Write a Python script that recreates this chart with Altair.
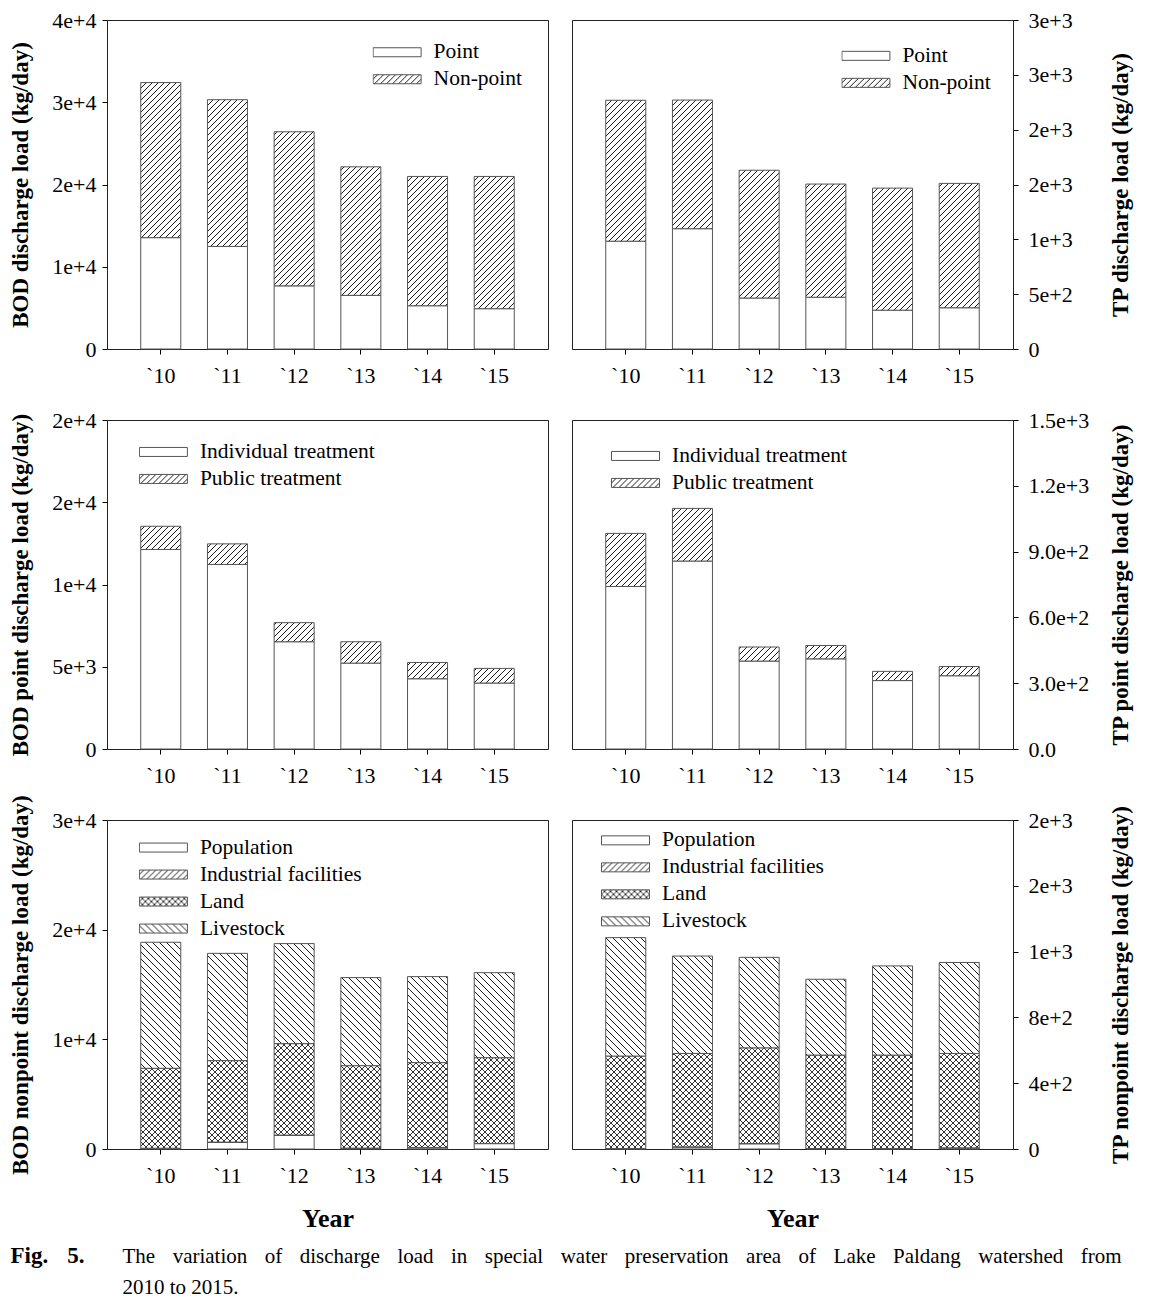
import json
import altair as alt
import pandas as pd
import jinja2

# ---------------- data ----------------
YEARS = ["`10", "`11", "`12", "`13", "`14", "`15"]

CATS_TOTAL = ["Point", "Non-point"]
CATS_POINT = ["Individual treatment", "Public treatment"]
CATS_NONPOINT = ["Population", "Industrial facilities", "Land", "Livestock"]

BOD_POINT = [13540, 12470, 7680, 6520, 5260, 4900]
BOD_NONPOINT = [18850, 17840, 18730, 15630, 15720, 16080]
TP_POINT = [983, 1097, 465, 472, 354, 376]
TP_NONPOINT = [1285, 1173, 1165, 1032, 1113, 1134]

BOD_INDIVIDUAL = [12130, 11220, 6520, 5220, 4270, 4010]
BOD_PUBLIC = [1410, 1250, 1160, 1300, 990, 890]
TP_INDIVIDUAL = [741, 857, 401, 411, 312, 334]
TP_PUBLIC = [242, 240, 64, 61, 42, 42]

BOD_POPULATION = [50, 610, 1250, 60, 110, 490]
BOD_INDUSTRIAL = [20, 20, 20, 20, 20, 20]
BOD_LAND = [7290, 7430, 8340, 7520, 7750, 7820]
BOD_LIVESTOCK = [11490, 9780, 9120, 8030, 7840, 7750]

TP_POPULATION = [2, 12, 32, 2, 2, 6]
TP_INDUSTRIAL = [1, 1, 1, 1, 1, 1]
TP_LAND = [562, 568, 582, 568, 568, 574]
TP_LIVESTOCK = [720, 592, 550, 461, 542, 553]

BOD_TOTAL_TICKS = [0, 10000, 20000, 30000, 40000]
BOD_TOTAL_LABELS = ["0", "1e+4", "2e+4", "3e+4", "4e+4"]
TP_TOTAL_TICKS = [0, 500, 1000, 1500, 2000, 2500, 3000]
TP_TOTAL_LABELS = ["0", "5e+2", "1e+3", "2e+3", "2e+3", "3e+3", "3e+3"]
BOD_POINT_TICKS = [0, 5000, 10000, 15000, 20000]
BOD_POINT_LABELS = ["0", "5e+3", "1e+4", "2e+4", "2e+4"]
TP_POINT_TICKS = [0, 300, 600, 900, 1200, 1500]
TP_POINT_LABELS = ["0.0", "3.0e+2", "6.0e+2", "9.0e+2", "1.2e+3", "1.5e+3"]
BOD_NONPOINT_TICKS = [0, 10000, 20000, 30000]
BOD_NONPOINT_LABELS = ["0", "1e+4", "2e+4", "3e+4"]
TP_NONPOINT_TICKS = [0, 400, 800, 1200, 1600, 2000]
TP_NONPOINT_LABELS = ["0", "4e+2", "8e+2", "1e+3", "2e+3", "2e+3"]

TITLES = {
    "bod_total": "BOD discharge load (kg/day)",
    "tp_total": "TP discharge load (kg/day)",
    "bod_point": "BOD point discharge load (kg/day)",
    "tp_point": "TP point discharge load (kg/day)",
    "bod_nonpoint": "BOD nonpoint discharge load (kg/day)",
    "tp_nonpoint": "TP nonpoint discharge load (kg/day)",
}
X_TITLE = "Year"
CAPTION_LABEL = "Fig. 5."
CAPTION_LINES = [
    "The variation of discharge load in special water preservation area of Lake Paldang watershed from",
    "2010 to 2015.",
]

# ---------------- styling ----------------
SERIF = "Liberation Serif"
W, H = 441, 329
ROW_GAP = 71
WHITE = "#ffffff"
FWD = "url(#hatchFwd)"
CROSS = "url(#hatchCross)"
BACK = "url(#hatchBack)"
RECT_SYMBOL = "M-1,-0.1875H1V0.1875H-1Z"
JUSTIFY_SPACE = "\u2002\u2004"   # wider word gap, imitating the justified first line


def make_df(cats, series):
    rows = []
    for k, (cat, vals) in enumerate(zip(cats, series)):
        for yr, v in zip(YEARS, vals):
            rows.append({"year": yr, "cat": cat, "k": k, "v": v})
    return pd.DataFrame(rows)


def panel(cats, series, fills, ticks, tick_labels, title, side, lx, ly, xtitle=None):
    df = make_df(cats, series)
    label_expr = "%s[indexof(%s, datum.value)]" % (json.dumps(tick_labels), json.dumps(ticks))
    yaxis = alt.Axis(
        orient=side, values=ticks, labelExpr=label_expr, title=title,
        titleAngle=270, titleX=(-87 if side == "left" else 107), titleY=H / 2,
        titleBaseline="middle", titleAlign="center",
        grid=False, domain=False, tickSize=5, tickColor="#000", tickWidth=1,
        labelPadding=(6 if side == "left" else 10), labelFont=SERIF, labelFontSize=22,
        labelColor="#000", titleFont=SERIF, titleFontSize=23, titleFontWeight="bold",
        titleColor="#000",
    )
    xkw = dict(labelAngle=0, domain=False, tickSize=5, tickColor="#000", tickWidth=1,
               labelPadding=11, labelFont=SERIF, labelFontSize=22, labelColor="#000", grid=False)
    if xtitle:
        xaxis = alt.Axis(title=xtitle, titleFont=SERIF, titleFontSize=26, titleFontWeight="bold",
                         titlePadding=19, titleColor="#000", **xkw)
    else:
        xaxis = alt.Axis(title=None, **xkw)
    legend = alt.Legend(
        title=None, orient="none", legendX=lx, legendY=ly, padding=0,
        symbolType=RECT_SYMBOL, symbolSize=2304, symbolStrokeColor="#555",
        symbolStrokeWidth=1, clipHeight=26.7, rowPadding=0, labelOffset=12,
        labelFont=SERIF, labelFontSize=21.5, labelColor="#000", labelLimit=400,
    )
    return alt.Chart(df).mark_bar(stroke="#555", strokeWidth=1).encode(
        x=alt.X("year:N", sort=YEARS, scale=alt.Scale(paddingInner=0.4, paddingOuter=0.506), axis=xaxis),
        y=alt.Y("v:Q", stack="zero", scale=alt.Scale(domain=[0, ticks[-1]], nice=False, zero=True), axis=yaxis),
        fill=alt.Fill("cat:N", scale=alt.Scale(domain=cats, range=fills), legend=legend),
        order=alt.Order("k:Q", sort="ascending"),
    ).properties(width=W, height=H)


p1 = panel(CATS_TOTAL, [BOD_POINT, BOD_NONPOINT], [WHITE, FWD],
           BOD_TOTAL_TICKS, BOD_TOTAL_LABELS, TITLES["bod_total"], "left", 265.6, 18.9)
p2 = panel(CATS_TOTAL, [TP_POINT, TP_NONPOINT], [WHITE, FWD],
           TP_TOTAL_TICKS, TP_TOTAL_LABELS, TITLES["tp_total"], "right", 269.4, 22.5)
p3 = panel(CATS_POINT, [BOD_INDIVIDUAL, BOD_PUBLIC], [WHITE, FWD],
           BOD_POINT_TICKS, BOD_POINT_LABELS, TITLES["bod_point"], "left", 31.9, 18.6)
p4 = panel(CATS_POINT, [TP_INDIVIDUAL, TP_PUBLIC], [WHITE, FWD],
           TP_POINT_TICKS, TP_POINT_LABELS, TITLES["tp_point"], "right", 39, 22.6)
p5 = panel(CATS_NONPOINT, [BOD_POPULATION, BOD_INDUSTRIAL, BOD_LAND, BOD_LIVESTOCK],
           [WHITE, FWD, CROSS, BACK], BOD_NONPOINT_TICKS, BOD_NONPOINT_LABELS,
           TITLES["bod_nonpoint"], "left", 31.9, 14.2, X_TITLE)
p6 = panel(CATS_NONPOINT, [TP_POPULATION, TP_INDUSTRIAL, TP_LAND, TP_LIVESTOCK],
           [WHITE, FWD, CROSS, BACK], TP_NONPOINT_TICKS, TP_NONPOINT_LABELS,
           TITLES["tp_nonpoint"], "right", 29, 7, X_TITLE)

cap_df = pd.DataFrame({"t": [0]})
cap_label = CAPTION_LABEL.replace(" ", JUSTIFY_SPACE)
cap_lines = [CAPTION_LINES[0].replace(" ", JUSTIFY_SPACE)] + CAPTION_LINES[1:]
cap_bold = alt.Chart(cap_df).mark_text(
    text=cap_label, font=SERIF, fontSize=23, fontWeight="bold",
    align="left", baseline="alphabetic", color="#000",
).encode(x=alt.value(-96.5), y=alt.value(43))
cap_body = alt.Chart(cap_df).mark_text(
    text=cap_lines, font=SERIF, fontSize=21, lineHeight=31,
    align="left", baseline="alphabetic", color="#000",
).encode(x=alt.value(15.5), y=alt.value(43))
caption = alt.layer(cap_bold, cap_body).properties(
    width=W, height=40, view=alt.ViewBackground(stroke="transparent"))

chart = alt.concat(
    p1, p2, p3, p4, p5, p6, caption,
    columns=2, spacing={"row": ROW_GAP, "column": 24}, bounds="flush",
).resolve_scale(fill="independent", x="independent", y="independent").resolve_legend(
    fill="independent").resolve_axis(x="independent", y="independent").properties(
    padding={"left": 0, "top": 0, "right": 2, "bottom": 0}
).configure_view(stroke="#222", strokeWidth=1)

TEMPLATE = jinja2.Template("""<!DOCTYPE html>
<html>
<head>
  <meta charset="utf-8">
  <style>
    #{{ output_div }}.vega-embed { width: 100%; display: flex; }
    #{{ output_div }}.vega-embed details,
    #{{ output_div }}.vega-embed details summary { position: relative; }
  </style>
  <script type="text/javascript" src="{{ base_url }}/vega@{{ vega_version }}"></script>
  <script type="text/javascript" src="{{ base_url }}/vega-lite@{{ vegalite_version }}"></script>
  <script type="text/javascript" src="{{ base_url }}/vega-embed@{{ vegaembed_version }}"></script>
</head>
<body>
  <svg width="0" height="0" style="position:absolute;left:0;top:0" aria-hidden="true">
    <defs>
      <pattern id="hatchFwd" patternUnits="userSpaceOnUse" width="6" height="6">
        <rect width="6" height="6" fill="#ffffff"/>
        <path d="M-1.5,1.5 L1.5,-1.5 M0,6 L6,0 M4.5,7.5 L7.5,4.5" stroke="#000" stroke-width="0.9"/>
      </pattern>
      <pattern id="hatchBack" patternUnits="userSpaceOnUse" width="7" height="7">
        <rect width="7" height="7" fill="#ffffff"/>
        <path d="M-1.5,5.5 L1.5,8.5 M0,0 L7,7 M5.5,-1.5 L8.5,1.5" stroke="#000" stroke-width="0.9"/>
      </pattern>
      <pattern id="hatchCross" patternUnits="userSpaceOnUse" width="6" height="6">
        <rect width="6" height="6" fill="#ffffff"/>
        <path d="M-1.5,1.5 L1.5,-1.5 M0,6 L6,0 M4.5,7.5 L7.5,4.5 M-1.5,4.5 L1.5,7.5 M0,0 L6,6 M4.5,-1.5 L7.5,1.5" stroke="#000" stroke-width="0.8"/>
      </pattern>
    </defs>
  </svg>
  <div id="{{ output_div }}"></div>
  <script>
    (function(vegaEmbed) {
      var spec = {{ spec }};
      var embedOpt = {{ embed_options }};
      function showError(el, error){
        el.innerHTML = ('<div style="color:red;"><p>JavaScript Error: ' + error.message + '</p></div>');
        throw error;
      }
      const el = document.getElementById('{{ output_div }}');
      vegaEmbed("#{{ output_div }}", spec, embedOpt).catch(error => showError(el, error));
    })(vegaEmbed);
  </script>
</body>
</html>
""")

try:
    chart.save("out.html", embed_options={"renderer": "svg", "actions": False}, template=TEMPLATE)
except TypeError:
    chart.save("out.html", embed_options={"renderer": "svg", "actions": False})
